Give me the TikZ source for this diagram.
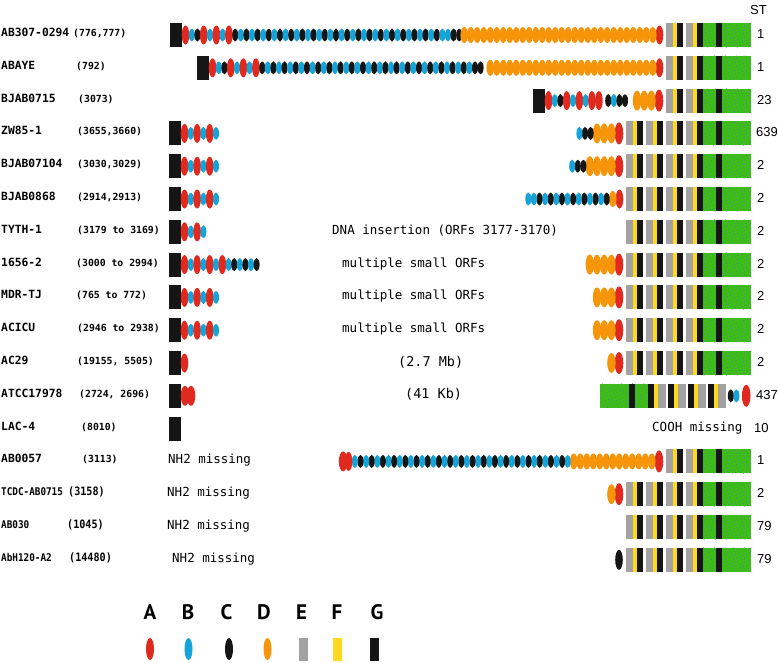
\documentclass[tikz,border=0pt]{standalone}
\usepackage{fontspec}
\usetikzlibrary{patterns.meta}
\newfontfamily\monof{DejaVu Sans Mono}
\newfontfamily\monon[FakeStretch=0.88]{DejaVu Sans Mono}
\newfontfamily\stf{Liberation Sans}
\newfontfamily\legf{PT Sans}
\definecolor{cR}{HTML}{E02A1F}
\definecolor{cB}{HTML}{16A3D8}
\definecolor{cK}{HTML}{151515}
\definecolor{cO}{HTML}{F7950A}
\definecolor{cE}{HTML}{A3A1A2}
\definecolor{cF}{HTML}{FFD91E}
\definecolor{cG}{HTML}{3EBC17}
\definecolor{cDot}{HTML}{3F78C8}
\ExplSyntaxOn
\cs_new:Npn \Rp #1#2 { \prg_replicate:nn {#1} {#2,} }
\ExplSyntaxOff
\newcommand\defel[2]{\expandafter\def\csname elw@#1\endcsname{#2}\expandafter\def\csname eld@#1\endcsname}
% black box
\defel{K}{12}#1#2{\fill[cK] (#1,#2-12) rectangle (#1+12,#2+12);}
% red ellipses
\defel{r}{7}#1#2{\fill[cR] (#1+3.5,#2) ellipse [x radius=3.8,y radius=9.5];}
\defel{R}{8}#1#2{\fill[cR] (#1+4,#2) ellipse [x radius=4.3,y radius=11];}
\defel{s}{6}#1#2{\fill[cR] (#1+4,#2) ellipse [x radius=4.3,y radius=10];}
% blue / black small ellipses
\defel{b}{5.6}#1#2{\fill[cB] (#1+2.8,#2) ellipse [x radius=3,y radius=6.5];}
\defel{k}{5.6}#1#2{\fill[cK] (#1+2.8,#2) ellipse [x radius=3,y radius=6.5];}
\defel{q}{8}#1#2{\fill[cK] (#1+4,#2) ellipse [x radius=3.8,y radius=10];}
% orange
\defel{o}{6.5}#1#2{\fill[cO] (#1+3.25,#2) ellipse [x radius=3.8,y radius=8];}
\defel{O}{7.2}#1#2{\fill[cO] (#1+3.6,#2) ellipse [x radius=4.2,y radius=10];}
% gap
\defel{g}{3}#1#2{}
% unit gray-yellow-black
\defel{U}{20}#1#2{\fill[cE] (#1+2.5,#2-12) rectangle (#1+9.5,#2+12);
  \fill[cF] (#1+9.5,#2-12) rectangle (#1+13.5,#2+12);
  \fill[cK] (#1+13.5,#2-12) rectangle (#1+20,#2+12);}
\defel{V}{20}#1#2{\fill[cK] (#1,#2-12) rectangle (#1+6,#2+12);
  \fill[cF] (#1+6,#2-12) rectangle (#1+10,#2+12);
  \fill[cE] (#1+10,#2-12) rectangle (#1+17.5,#2+12);}
% green boxes
\tikzset{greenbox/.style={fill=cG},dotted/.style={pattern={Dots[distance=3.5pt,radius=0.45pt,angle=20]},pattern color=cDot}}
\defel{G}{48}#1#2{\fill[greenbox] (#1,#2-12) rectangle (#1+48,#2+12);
  \fill[dotted] (#1,#2-12) rectangle (#1+48,#2+12);
  \fill[cK] (#1+13,#2-12) rectangle (#1+19,#2+12);}
\defel{H}{48}#1#2{\fill[greenbox] (#1,#2-12) rectangle (#1+48,#2+12);
  \fill[dotted] (#1,#2-12) rectangle (#1+48,#2+12);
  \fill[cK] (#1+29,#2-12) rectangle (#1+35,#2+12);}
\newcommand\chainL[3]{%
  \xdef\cx{#1}\edef\lst{#3}%
  \foreach \tk in \lst {\ifx\tk\empty\else
    \csname eld@\tk\endcsname{\cx}{#2}%
    \pgfmathsetmacro\nx{\cx+\csname elw@\tk\endcsname}%
    \xdef\cx{\nx}\fi}}
\newcommand\chainR[3]{%
  \xdef\cx{#1}\edef\lst{#3}%
  \foreach \tk in \lst {\ifx\tk\empty\else
    \pgfmathsetmacro\nx{\cx-\csname elw@\tk\endcsname}%
    \xdef\cx{\nx}%
    \csname eld@\tk\endcsname{\cx}{#2}\fi}}
\begin{document}
\begin{tikzpicture}[x=1pt,y=-1pt,
 lab/.style={anchor=base west,inner sep=0pt,font=\monof\bfseries\fontsize{11.3}{13}\selectfont},
 labs/.style={anchor=base west,inner sep=0pt,font=\monon\bfseries\fontsize{10.6}{12}\selectfont},
 num/.style={anchor=base west,inner sep=0pt,font=\monof\bfseries\fontsize{9.8}{12}\selectfont},
 nums/.style={anchor=base west,inner sep=0pt,font=\monon\bfseries\fontsize{11.5}{12}\selectfont},
 mid/.style={anchor=base west,inner sep=0pt,font=\monof\fontsize{12.5}{14}\selectfont},
 big/.style={anchor=base west,inner sep=0pt,font=\monof\fontsize{13.5}{15}\selectfont},
 st/.style={anchor=base west,inner sep=0pt,font=\stf\fontsize{13}{15}\selectfont},
 leg/.style={anchor=center,inner sep=0pt,font=\legf\bfseries\fontsize{21}{24}\selectfont}]
\useasboundingbox (0,0) rectangle (778,662);
% header
\node[st] (sthead) at (750,14) {ST};
% row 1
\chainL{170}{35}{K,r,b,k,r,b,r,b,r,\Rp{19}{k,b}b,k,k}
\chainR{751}{35}{G,U,U,r,\Rp{29}{o}o}
\node[lab] (l1) at (1,36.5) {AB307-0294};
\node[num] (n1) at (73,36.5) {(776,777)};
\node[st] (s1) at (757,38.5) {1};
% row 2
\chainL{197}{67.8}{K,r,b,k,r,b,r,b,r,\Rp{19}{k,b}k,k}
\chainR{751}{67.8}{G,U,U,r,\Rp{25}{o}o}
\node[lab] (l2) at (1,69.3) {ABAYE};
\node[num] (n2) at (76,69.3) {(792)};
\node[st] (s2) at (757,71.3) {1};
% row 3
\chainL{533}{100.6}{K,r,b,k,r,b,r,b,r,r,g,k,b,k,k}
\chainR{751}{100.6}{G,U,U,R,O,O,O}
\node[lab] (l3) at (1,102.1) {BJAB0715};
\node[num] (n3) at (78,102.1) {(3073)};
\node[st] (s3) at (757,104.1) {23};
% row 4
\chainL{169}{133.4}{K,r,b,r,b,r,b}
\chainR{751}{133.4}{G,U,U,U,U,R,O,O,O,k,k,b}
\node[lab] (l4) at (1,134.9) {ZW85-1};
\node[num] (n4) at (77,134.9) {(3655,3660)};
\node[st] (s4) at (756,136.9) {639};
% row 5
\chainL{169}{166.2}{K,r,b,r,b,r,b}
\chainR{751}{166.2}{G,U,U,U,U,R,O,O,O,O,k,k,b}
\node[lab] (l5) at (1,167.7) {BJAB07104};
\node[num] (n5) at (77,167.7) {(3030,3029)};
\node[st] (s5) at (757,169.7) {2};
% row 6
\chainL{169}{199}{K,r,b,r,b,r,b}
\chainR{751}{199}{G,U,U,U,U,r,o,\Rp{7}{k,b}b}
\node[lab] (l6) at (1,200.5) {BJAB0868};
\node[num] (n6) at (77,200.5) {(2914,2913)};
\node[st] (s6) at (757,202.5) {2};
% row 7
\chainL{169}{231.8}{K,r,b,r,b}
\chainR{751}{231.8}{G,U,U,U,U}
\node[lab] (l7) at (1,233.3) {TYTH-1};
\node[num] (n7) at (77,233.3) {(3179 to 3169)};
\node[mid] (m7) at (332,234.3) {DNA insertion (ORFs 3177-3170)};
\node[st] (s7) at (757,235.3) {2};
% row 8
\chainL{169}{264.6}{K,r,b,r,b,r,b,r,b,k,b,k,b,k}
\chainR{751}{264.6}{G,U,U,U,U,R,O,O,O,O}
\node[lab] (l8) at (1,266.1) {1656-2};
\node[num] (n8) at (76,266.1) {(3000 to 2994)};
\node[mid] (m8) at (342,267.1) {multiple small ORFs};
\node[st] (s8) at (757,268.1) {2};
% row 9
\chainL{169}{297.4}{K,r,b,r,b,r,b}
\chainR{751}{297.4}{G,U,U,U,U,R,O,O,O}
\node[lab] (l9) at (1,298.9) {MDR-TJ};
\node[num] (n9) at (76,298.9) {(765 to 772)};
\node[mid] (m9) at (342,299.9) {multiple small ORFs};
\node[st] (s9) at (757,300.9) {2};
% row 10
\chainL{169}{330.2}{K,r,b,r,b,r,b}
\chainR{751}{330.2}{G,U,U,U,U,R,O,O,O}
\node[lab] (l10) at (1,331.7) {ACICU};
\node[num] (n10) at (77,331.7) {(2946 to 2938)};
\node[mid] (m10) at (342,332.7) {multiple small ORFs};
\node[st] (s10) at (757,333.7) {2};
% row 11
\chainL{169}{363}{K,r}
\chainR{751}{363}{G,U,U,U,U,R,O}
\node[lab] (l11) at (1,364.5) {AC29};
\node[num] (n11) at (77,364.5) {(19155, 5505)};
\node[big] (m11) at (398,366) {(2.7 Mb)};
\node[st] (s11) at (757,366.5) {2};
% row 12
\chainL{169}{395.8}{K,s,s}
\chainL{600}{395.8}{H,V,V,V,V,k,b,g,R}
\node[lab] (l12) at (1,397.3) {ATCC17978};
\node[num] (n12) at (79,397.3) {(2724, 2696)};
\node[big] (m12) at (405,398.8) {(41 Kb)};
\node[st] (s12) at (756,399.3) {437};
% row 13
\chainL{169}{428.6}{K}
\node[lab] (l13) at (1,430.1) {LAC-4};
\node[num] (n13) at (81,430.1) {(8010)};
\node[mid] (m13) at (652,431.1) {COOH missing};
\node[st] (s13) at (754,432.1) {10};
% row 14
\chainR{751}{461.4}{G,U,U,R,\Rp{13}{o}b,k,\Rp{18}{b,k}b,r,s}
\node[lab] (l14) at (1,462.9) {AB0057};
\node[num] (n14) at (82,462.9) {(3113)};
\node[mid] (m14) at (168,463.9) {NH2 missing};
\node[st] (s14) at (757,464.9) {1};
% row 15
\chainR{751}{494.2}{G,U,U,U,U,R,O}
\node[labs] (l15) at (1,495.7) {TCDC-AB0715};
\node[nums] (n15) at (68,495.7) {(3158)};
\node[mid] (m15) at (167,496.7) {NH2 missing};
\node[st] (s15) at (757,497.7) {2};
% row 16
\chainR{751}{527}{G,U,U,U,U}
\node[labs] (l16) at (1,528.5) {AB030};
\node[nums] (n16) at (67,528.5) {(1045)};
\node[mid] (m16) at (167,529.5) {NH2 missing};
\node[st] (s16) at (757,530.5) {79};
% row 17
\chainR{751}{559.8}{G,U,U,U,U,q}
\node[labs] (l17) at (1,561.3) {AbH120-A2};
\node[nums] (n17) at (69,561.3) {(14480)};
\node[mid] (m17) at (172,562.3) {NH2 missing};
\node[st] (s17) at (757,563.3) {79};
% legend
\node[leg] (la) at (150,612) {A};
\node[leg] (lb) at (188,612) {B};
\node[leg] (lc) at (226.5,612) {C};
\node[leg] (ld) at (264,612) {D};
\node[leg] (le) at (301.5,612) {E};
\node[leg] (lf) at (337,612) {F};
\node[leg] (lg) at (377,612) {G};
\fill[cR] (150,649) ellipse [x radius=4,y radius=11];
\fill[cB] (188.5,649) ellipse [x radius=4,y radius=11];
\fill[cK] (229,649) ellipse [x radius=4,y radius=11];
\fill[cO] (267.5,649) ellipse [x radius=4,y radius=11];
\fill[cE] (299,637.5) rectangle (308,660.5);
\fill[cF] (332.5,637.5) rectangle (342,660.5);
\fill[cK] (370,637.5) rectangle (379,660.5);
\end{tikzpicture}
\end{document}
